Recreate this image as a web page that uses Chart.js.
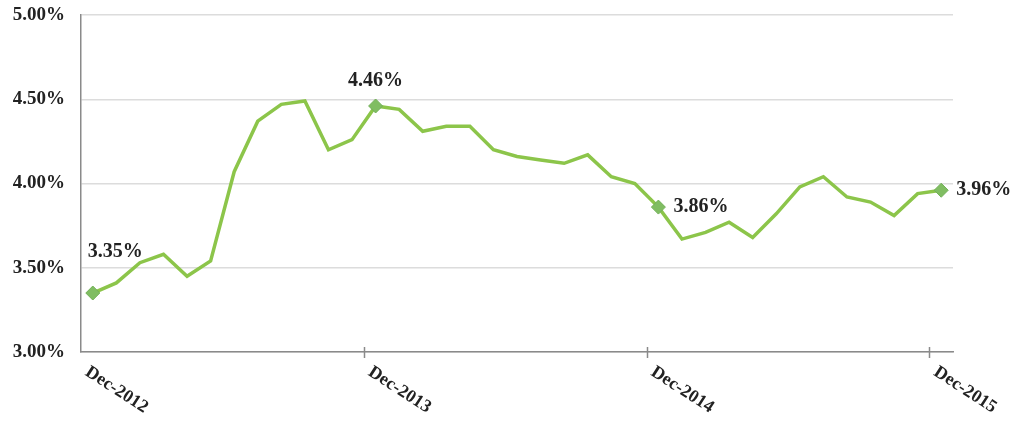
<!DOCTYPE html>
<html>
<head>
<meta charset="utf-8">
<script src="https://cdn.jsdelivr.net/npm/chart.js@4/dist/chart.umd.min.js"></script>
<style>
  html, body { margin: 0; padding: 0; background: #fff; }
  #wrap { width: 1012px; height: 423px; position: relative; }
</style>
</head>
<body>
<div id="wrap"><canvas id="rateChart"></canvas></div>
<script>
// monthly categories, Dec-2012 .. Dec-2015
const months = [
  'Dec-2012', 'Jan-2013', 'Feb-2013', 'Mar-2013', 'Apr-2013', 'May-2013', 'Jun-2013',
  'Jul-2013', 'Aug-2013', 'Sep-2013', 'Oct-2013', 'Nov-2013', 'Dec-2013',
  'Jan-2014', 'Feb-2014', 'Mar-2014', 'Apr-2014', 'May-2014', 'Jun-2014',
  'Jul-2014', 'Aug-2014', 'Sep-2014', 'Oct-2014', 'Nov-2014', 'Dec-2014',
  'Jan-2015', 'Feb-2015', 'Mar-2015', 'Apr-2015', 'May-2015', 'Jun-2015',
  'Jul-2015', 'Aug-2015', 'Sep-2015', 'Oct-2015', 'Nov-2015', 'Dec-2015'
];
const rates = [
  3.35, 3.41, 3.53, 3.58, 3.45, 3.54, 4.07, 4.37, 4.47, 4.49, 4.20, 4.26, 4.46,
  4.44, 4.31, 4.34, 4.34, 4.20, 4.16, 4.14, 4.12, 4.17, 4.04, 4.00, 3.86,
  3.67, 3.71, 3.77, 3.68, 3.82, 3.98, 4.04, 3.92, 3.89, 3.81, 3.94, 3.96
];
// which points get a marker + value label
const labelledPoints = [0, 12, 24, 36];
const axisLabelPoints = [0, 12, 24, 36];
const yTicks = [3.0, 3.5, 4.0, 4.5, 5.0];

const serifFamily = '"Liberation Serif", "Times New Roman", serif';

// value labels next to the marked points
const pointLabels = {
    id: 'pointLabels',
    afterDatasetsDraw(chart) {
        const ctx = chart.ctx;
        const meta = chart.getDatasetMeta(0);
        ctx.save();
        ctx.font = 'bold 20px ' + serifFamily;
        ctx.fillStyle = '#222';
        ctx.textBaseline = 'middle';
        labelledPoints.forEach((i, n) => {
            const pt = meta.data[i];
            const txt = rates[i].toFixed(2) + '%';
            if (n === 0) {
                ctx.textAlign = 'left';
                ctx.fillText(txt, pt.x - 5, pt.y - 41);
            } else if (n === 1) {
                ctx.textAlign = 'center';
                ctx.fillText(txt, pt.x, pt.y - 25);
            } else {
                ctx.textAlign = 'left';
                ctx.fillText(txt, pt.x + 15, pt.y);
            }
        });
        ctx.restore();
    }
};

// slanted year labels under the x axis, plus little tick marks crossing the axis
const slantedLabels = {
    id: 'slantedLabels',
    afterDraw(chart) {
        const ctx = chart.ctx;
        const xs = chart.scales.x;
        const half = (xs.getPixelForValue(1) - xs.getPixelForValue(0)) / 2;
        ctx.save();
        ctx.strokeStyle = '#8a8a8a';
        ctx.lineWidth = 1.5;
        axisLabelPoints.forEach(i => {
            const tx = Math.round(xs.getPixelForValue(i) - half) + 0.5;
            if (i === 0) return;
            ctx.beginPath();
            ctx.moveTo(tx, xs.top - 5);
            ctx.lineTo(tx, xs.top + 6);
            ctx.stroke();
        });
        ctx.font = 'bold 18px ' + serifFamily;
        ctx.fillStyle = '#222';
        ctx.textAlign = 'left';
        ctx.textBaseline = 'top';
        axisLabelPoints.forEach(i => {
            const x = xs.getPixelForValue(i);
            ctx.save();
            ctx.translate(x - 1, xs.top + 11);
            ctx.rotate(33 * Math.PI / 180);
            ctx.fillText(months[i], 0, 0);
            ctx.restore();
        });
        ctx.restore();
    }
};

const ctx = document.getElementById('rateChart').getContext('2d');
const rateChart = new Chart(ctx, {
    type: 'line',
    data: {
        labels: months,
        datasets: [{
            data: rates,
            borderColor: '#8cc54a',
            borderWidth: 3.5,
            tension: 0,
            pointStyle: 'rectRot',
            pointRadius: rates.map((v, i) => labelledPoints.includes(i) ? 7 : 0),
            pointBackgroundColor: '#80bd62',
            pointBorderColor: '#72b058',
            pointBorderWidth: 1
        }]
    },
    options: {
        responsive: true,
        maintainAspectRatio: false,
        animation: false,
        layout: {
            padding: { top: 15, right: 59, left: 0, bottom: 0 }
        },
        plugins: {
            legend: { display: false },
            tooltip: { enabled: false }
        },
        scales: {
            x: {
                offset: true,
                afterFit(scale) {
                    scale.height = 71;
                    scale.paddingTop = 0;
                    scale.paddingBottom = 0;
                },
                ticks: { display: false, autoSkip: false },
                grid: {
                    display: false
                },
                border: { color: '#8a8a8a', width: 1.5 }
            },
            y: {
                min: 3,
                max: 5,
                afterFit(scale) {
                    scale.width = 81;
                    scale.paddingTop = 0;
                    scale.paddingBottom = 0;
                },
                afterBuildTicks(scale) {
                    scale.ticks = yTicks.map(v => ({ value: v }));
                },
                ticks: {
                    padding: 16,
                    color: '#222',
                    font: { family: serifFamily, size: 19, weight: 'bold' },
                    callback: v => v.toFixed(2) + '%'
                },
                grid: {
                    drawTicks: false,
                    color: '#dcdcdc',
                    lineWidth: 1.5
                },
                border: { color: '#8a8a8a', width: 1.5 }
            }
        }
    },
    plugins: [pointLabels, slantedLabels]
});
</script>
</body>
</html>
